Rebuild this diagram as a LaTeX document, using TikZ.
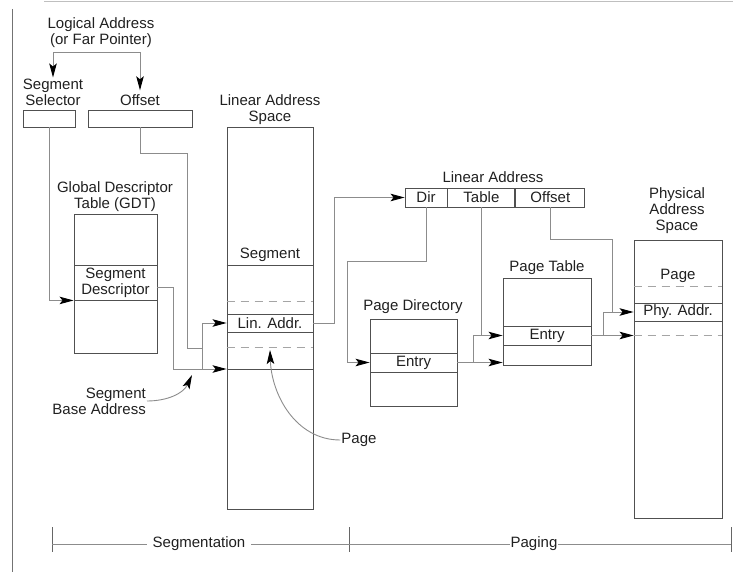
\documentclass[tikz,border=0pt]{standalone}
\usepackage{fontspec}
\setmainfont{Liberation Sans}
\usetikzlibrary{arrows.meta, positioning}
\definecolor{BoxGray}{HTML}{505050}
\definecolor{WireGray}{HTML}{8C8C8C}
\definecolor{DashGray}{HTML}{A5A5A5}
\definecolor{InkBlack}{HTML}{202020}

\begin{document}
\begin{tikzpicture}[x=1pt, y=-1pt,
    every node/.style={font=\fontsize{15}{16}\selectfont, text=InkBlack},
    lbl/.style={align=center, inner sep=1pt},
    cell/.style={draw=BoxGray, line width=0.9pt, inner sep=0pt},
    wire/.style={draw=WireGray, line width=0.9pt},
    arr/.style={wire, -{Stealth[length=14pt, width=7.5pt, inset=3pt, color=black]}},
    dashrow/.style={draw=DashGray, line width=0.9pt, dash pattern=on 8pt off 6pt}]
    \useasboundingbox (0,0) rectangle (733,572);

    % page edges
    \draw[draw=black!25, line width=0.8pt] (44,1) -- (733,1);
    \draw[draw=black!55, line width=1pt] (12,9) -- (12,572);

    % Logical address
    \node[lbl] (logaddr) at (101,33) {Logical Address\\(or Far Pointer)};
    \node[lbl] (sellbl) at (53,92) {Segment\\Selector};
    \node[lbl] (offlbl) at (140,100) {Offset};
    \node[cell, minimum width=52pt, minimum height=17pt] (selbox) at (49,118.5) {};
    \node[cell, minimum width=104pt, minimum height=17pt] (offbox) at (140,118.5) {};
    \coordinate (fork) at (98,52);
    \draw[arr] (fork) -| (sellbl.north);
    \draw[arr, shorten >=3pt] (fork) -| (offlbl.north);

    % Global descriptor table
    \node[lbl] (gdtlbl) at (115,197) {Global Descriptor\\Table (GDT)};
    \node[cell, minimum width=83pt, minimum height=139pt] (gdt) at (115.5,283.5) {};
    \node[cell, align=center, minimum width=83pt, minimum height=35pt] (gdtentry) at (115.5,282.5) {Segment\\Descriptor};
    \draw[arr] (selbox.south) |- (gdtentry.south west);

    % Linear address space
    \node[lbl] (laslbl) at (270,110) {Linear Address\\Space};
    \node[cell, minimum width=86pt, minimum height=382pt] (las) at (270,318) {};
    \node[lbl] (seglbl) at (270,255) {Segment};
    \node[cell, minimum width=86pt, minimum height=18pt] (linaddr) at (270,323) {Lin. Addr.};
    \foreach \yy in {265,369}
        \draw[draw=BoxGray, line width=0.9pt] (las.west |- 0,\yy) -- (las.east |- 0,\yy);
    \foreach \yy in {301,347}
        \draw[dashrow] (las.west |- 0,\yy) -- (las.east |- 0,\yy);

    % base + offset
    \coordinate (adda) at (202,323);
    \coordinate (addb) at (202,369);
    \coordinate (segbase) at (las.west |- addb);
    \draw[wire] (offbox.south) |- (187,153) |- (202,348);
    \draw[wire] ([yshift=-5pt]gdtentry.east) -| (173,369) -- (addb);
    \draw[wire] (adda) -- (addb);
    \draw[arr] (adda) -- (linaddr.west);
    \draw[arr] (addb) -- (segbase);

    \node[lbl, align=right, anchor=east] (sbalbl) at (147,401) {Segment\\Base Address};
    \coordinate (sbatip) at (192,375);
    \draw[arr] (sbalbl.east) to[out=0, in=-115] (sbatip);

    \node[lbl] (pagelbl) at (359,440) {Page};
    \coordinate (pagetip) at (270,350);
    \draw[arr] (pagelbl.west) to[out=180, in=-88] (pagetip);

    % Linear address fields
    \node[lbl] (lalbl) at (493,177) {Linear Address};
    \node[cell, minimum width=42pt, minimum height=19pt] (dir) at (426,197.5) {Dir};
    \node[cell, minimum width=67pt, minimum height=19pt, right=0pt of dir] (table) {Table};
    \node[cell, minimum width=69pt, minimum height=19pt, right=0pt of table] (offs) {Offset};
    \draw[arr] (linaddr.east) -- (334,323) |- (dir.west);

    % Page directory
    \node[lbl] (pdlbl) at (413,307) {Page Directory};
    \node[cell, minimum width=87pt, minimum height=87pt] (pd) at (413.5,362.5) {};
    \node[cell, minimum width=87pt, minimum height=19pt] (pdentry) at (pd.center) {Entry};
    \draw[arr] (dir.south) |- (347,261) |- (pdentry.west);

    % Page table
    \node[lbl] (ptlbl) at (547,268) {Page Table};
    \node[cell, minimum width=88pt, minimum height=87pt] (pt) at (547,321.5) {};
    \node[cell, minimum width=88pt, minimum height=19pt] (ptentry) at (547,335.5) {Entry};
    \coordinate (addc) at (473,335.5);
    \coordinate (addd) at (473,362.5);
    \draw[wire] (table.south) -- (table.south |- addc);
    \draw[wire] (pdentry.east) -- (addd);
    \draw[wire] (addc) -- (addd);
    \draw[arr] (addc) -- (ptentry.west);
    \draw[arr] (addd) -- (pt.west |- addd);

    % Physical address space
    \node[lbl] (paslbl) at (677,211) {Physical\\Address\\Space};
    \node[cell, minimum width=88pt, minimum height=278pt] (pas) at (678,379) {};
    \node[lbl] (pglbl) at (678,276) {Page};
    \node[cell, minimum width=88pt, minimum height=18pt] (phyaddr) at (678,312) {Phy. Addr.};
    \foreach \yy in {286,335}
        \draw[dashrow] (pas.west |- 0,\yy) -- (pas.east |- 0,\yy);
    \coordinate (adde) at (603,312);
    \coordinate (addf) at (603,335.5);
    \draw[wire] (offs.south) |- (612,239) -- (612,312);
    \draw[wire] (ptentry.east) -- (addf);
    \draw[wire] (adde) -- (addf);
    \draw[arr] (adde) -- (phyaddr.west);
    \draw[arr] (addf) -- (pas.west |- addf);

    % Segmentation / paging scale
    \coordinate (s0) at (52,544);
    \coordinate (s2) at (731,544);
    \foreach \xx in {52,349,731}
        \draw[draw=black!60, line width=0.9pt] (\xx,527) -- (\xx,552);
    \draw[wire] (s0) -- (s2);
    \node[lbl, fill=white, inner xsep=6pt] (seglab) at (199,544) {Segmentation};
    \node[lbl, fill=white, inner xsep=1pt] (paglab) at (534,544) {Paging};
\end{tikzpicture}
\end{document}
